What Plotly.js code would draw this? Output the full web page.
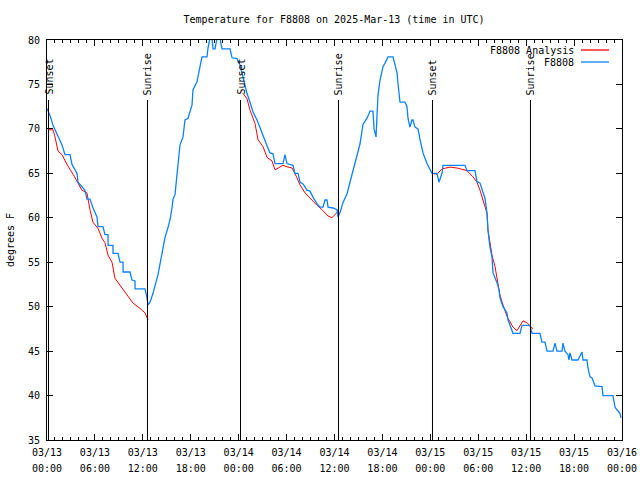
<!DOCTYPE html>
<html>
<head>
<meta charset="utf-8">
<script src="https://cdn.plot.ly/plotly-3.0.1.min.js"></script>
<style>html,body{margin:0;padding:0;background:#fff;}#chart{width:640px;height:480px;}</style>
</head>
<body>
<div id="chart"></div>
<script>
// Hours after 2025-03-13 00:00 UTC, and temperatures (deg F)
const obsHours = [0,0.38,0.75,1.25,1.88,2.25,2.88,3.13,3.5,3.76,3.88,4.38,4.76,5.0,5.38,5.76,6.26,6.39,7.01,7.26,7.64,7.65,8.26,8.27,8.89,9.14,9.52,9.53,10.39,10.64,11.02,11.03,12.27,12.52,12.65,12.9,13.27,13.9,14.53,14.78,15.15,15.4,15.65,15.78,16.03,16.28,16.4,16.65,17.03,17.28,17.66,18.16,18.28,18.78,19.16,19.41,20.03,20.16,20.41,20.66,20.79,21.04,21.29,21.66,21.91,22.92,23.17,23.79,24.17,24.42,24.79,25.04,25.42,25.8,26.3,26.67,27.05,27.55,27.92,28.3,28.55,29.55,29.8,30.05,30.8,31.05,31.43,31.68,32.06,32.56,32.93,33.31,33.81,34.18,34.56,34.81,35.06,35.19,35.81,36.31,36.44,36.69,37.06,37.57,37.94,38.32,38.82,39.19,39.57,40.07,40.45,40.82,40.95,41.2,41.32,41.45,41.7,42.07,42.32,42.7,43.33,43.58,43.83,43.95,44.2,44.83,45.08,45.2,45.45,45.7,45.83,46.08,46.46,46.71,47.08,47.58,47.96,48.21,48.83,49.08,49.46,49.59,52.34,52.59,53.59,53.84,54.22,54.47,54.84,55.1,55.22,55.47,55.72,55.85,56.35,56.6,56.72,57.1,57.6,57.73,57.98,58.35,59.23,59.48,60.48,60.73,61.73,61.98,62.36,62.61,63.36,63.61,63.86,64.49,64.61,64.86,65.24,65.36,65.49,65.74,66.49,66.99,67.12,67.62,67.74,67.99,68.24,68.62,69.5,69.62,70.87,71.12,71.37,71.75,71.87];
const obsTemps = [72.3,71.5,70.4,69.4,68.2,67.1,67.1,66.0,65.4,65.0,64.0,63.5,63.1,62.1,62.1,61.1,60.1,59.0,59.0,58.1,58.1,56.9,56.9,56.0,56.0,55.0,55.0,53.9,53.9,53.0,52.9,52.0,52.0,51.0,50.2,50.5,51.5,53.6,56.4,57.8,58.9,59.8,61.1,62.1,62.6,64.6,66.1,68.2,69.1,71.0,71.2,72.7,74.4,75.3,77.0,78.1,78.1,79.1,80.2,80.2,79.0,79.0,80.2,80.2,79.0,79.0,78.0,77.9,77.2,76.3,75.0,74.0,73.0,71.9,71.0,70.1,69.1,68.1,67.3,67.2,66.1,66.1,67.1,66.1,65.9,65.0,65.0,64.0,63.8,63.1,63.0,62.3,61.6,61.2,61.2,62.0,62.0,61.2,61.1,60.9,60.1,60.6,61.7,62.7,64.0,65.4,66.9,68.3,70.5,71.2,72.0,72.0,70.0,69.1,71.5,73.8,75.5,77.0,77.4,78.1,78.1,77.0,76.3,75.1,73.0,73.0,72.5,71.2,70.2,71.0,71.0,70.2,70.0,68.8,67.3,66.1,65.4,65.0,65.0,64.0,65.0,65.9,65.9,65.3,65.3,64.1,63.9,63.1,62.2,60.5,58.6,56.7,55.6,53.8,52.7,51.9,51.0,50.0,49.3,48.5,47.9,47.0,47.0,47.9,47.9,47.0,47.0,46.0,46.0,45.0,45.0,45.9,45.0,45.0,45.9,45.0,44.6,44.0,44.8,44.0,44.0,44.9,44.0,44.0,43.1,42.1,42.0,41.1,41.0,40.0,40.0,38.7,38.4,38.0,37.5];

// Analysis (night-time segments), null separates segments
const anaHours = [0.1,0.75,1.0,1.38,1.88,2.5,3.26,3.76,4.38,5.0,5.38,5.76,6.39,6.89,7.26,7.64,8.14,8.51,9.39,10.02,10.77,11.65,12.27,12.65,
  null,
  24.54,25.04,25.42,26.05,26.42,27.05,27.55,28.17,28.55,28.93,29.55,30.18,30.68,31.3,31.68,32.31,32.93,33.81,34.44,35.19,35.69,36.06,36.31,36.44,
  null,
  48.21,48.83,49.46,50.46,51.34,52.59,53.34,53.84,54.22,54.6,55.1,55.22,55.47,55.72,56.1,56.35,56.72,57.1,57.6,57.98,58.35,58.85,59.23,59.6,60.1,60.48,60.86];
const anaTemps = [69.9,69.9,69.1,67.5,67.1,66.0,64.9,64.1,63.1,62.8,60.9,59.5,58.8,57.7,57.2,55.8,55.0,53.2,52.1,51.3,50.4,49.8,49.3,48.5,
  null,
  74.0,73.4,72.1,70.6,68.8,68.0,66.8,66.4,65.4,65.6,65.9,65.7,65.6,64.5,63.7,62.8,62.2,61.4,60.9,60.2,60.0,60.3,60.6,60.9,
  null,
  65.0,64.9,65.5,65.7,65.6,65.3,64.6,64.0,63.1,62.0,60.5,58.6,57.0,55.8,54.5,53.0,51.3,50.2,48.9,48.3,47.7,47.3,47.9,48.4,48.2,47.9,47.5];

const sunHours = [0.188, 12.58, 24.23, 36.50, 48.27, 60.54];
const sunLabels = ['Sunset', 'Sunrise', 'Sunset', 'Sunrise', 'Sunset', 'Sunrise'];

const seriesNames = ['F8808 Analysis', 'F8808'];
const seriesColors = ['#ff0000', '#0a82ff'];

const T0 = Date.UTC(2025, 2, 13, 0, 0, 0);
function toDate(h) {
  if (h === null) return null;
  return new Date(T0 + Math.round(h * 3600000)).toISOString().replace('T', ' ').slice(0, 19);
}

const FONT = 'DejaVu Sans Mono, Liberation Mono, monospace';
const xRange = [toDate(0), toDate(72)];

const traces = [
  {x: anaHours.map(toDate), y: anaTemps, mode: 'lines', name: seriesNames[0],
   line: {color: seriesColors[0], width: 1}, connectgaps: false},
  {x: obsHours.map(toDate), y: obsTemps, mode: 'lines', name: seriesNames[1],
   line: {color: seriesColors[1], width: 1.3}},
  // empty helper trace so the second (time-of-day) label row is drawn
  {x: xRange, y: [null, null], xaxis: 'x2', mode: 'lines', showlegend: false, hoverinfo: 'skip'}
];

const shapes = [];
const annotations = [];
sunHours.forEach((h, i) => {
  shapes.push({type: 'line', xref: 'x', yref: 'paper', x0: toDate(h), x1: toDate(h), y0: 0, y1: 0.85,
    line: {color: '#000', width: 1}});
  annotations.push({xref: 'x', yref: 'paper', x: toDate(h), y: 0.86, text: sunLabels[i],
    textangle: -90, showarrow: false, xanchor: 'center', yanchor: 'bottom',
    font: {family: FONT, size: 10, color: '#000'}, borderpad: 0});
});
// legend (gnuplot style: text left, sample right)
const legY = [0.975, 0.945];
seriesNames.forEach((n, i) => {
  annotations.push({xref: 'paper', yref: 'paper', x: (575 - 47) / 575, y: legY[i], text: n,
    showarrow: false, xanchor: 'right', yanchor: 'middle',
    font: {family: FONT, size: 10, color: '#000'}, borderpad: 0});
  shapes.push({type: 'line', xref: 'paper', yref: 'paper', x0: (581 - 47) / 575, x1: (609 - 47) / 575,
    y0: legY[i], y1: legY[i], line: {color: seriesColors[i], width: 1.3}});
});

const layout = {
  width: 640, height: 480,
  margin: {l: 47, r: 18, t: 40, b: 40},
  paper_bgcolor: '#fff', plot_bgcolor: '#fff',
  font: {family: FONT, size: 10, color: '#000'},
  showlegend: false,
  title: {text: 'Temperature for F8808 on 2025-Mar-13 (time in UTC)', x: 0.522, xanchor: 'center', y: 0.96, yanchor: 'middle',
    font: {family: FONT, size: 10, color: '#000'}},
  xaxis: {
    type: 'date', range: xRange,
    tick0: toDate(0), dtick: 6 * 3600000, tickformat: '%m/%d',
    ticks: 'inside', ticklen: 6, tickcolor: '#000', tickwidth: 1,
    showline: true, linecolor: '#000', linewidth: 1, mirror: 'ticks',
    showgrid: false, zeroline: false, ticklabelstandoff: 3,
    minor: {ticks: 'inside', ticklen: 3, dtick: 3600000, tickcolor: '#000', showgrid: false},
    tickfont: {family: FONT, size: 10, color: '#000'}
  },
  xaxis2: {
    type: 'date', range: xRange, overlaying: 'x', anchor: 'y', side: 'bottom',
    tick0: toDate(0), dtick: 6 * 3600000, tickformat: '%H:%M',
    ticks: '', showline: false, showgrid: false, zeroline: false, ticklabelstandoff: 21,
    tickfont: {family: FONT, size: 10, color: '#000'}
  },
  yaxis: {
    range: [35, 80], dtick: 5, tick0: 35,
    ticks: 'inside', ticklen: 6, tickcolor: '#000', tickwidth: 1,
    showline: true, linecolor: '#000', linewidth: 1, mirror: 'ticks',
    showgrid: false, zeroline: false, ticklabelstandoff: 4,
    title: {text: 'degrees F', font: {family: FONT, size: 10, color: '#000'}, standoff: 11},
    tickfont: {family: FONT, size: 10, color: '#000'}
  },
  shapes: shapes,
  annotations: annotations
};

Plotly.newPlot('chart', traces, layout, {displayModeBar: false, staticPlot: true});
</script>
</body>
</html>
